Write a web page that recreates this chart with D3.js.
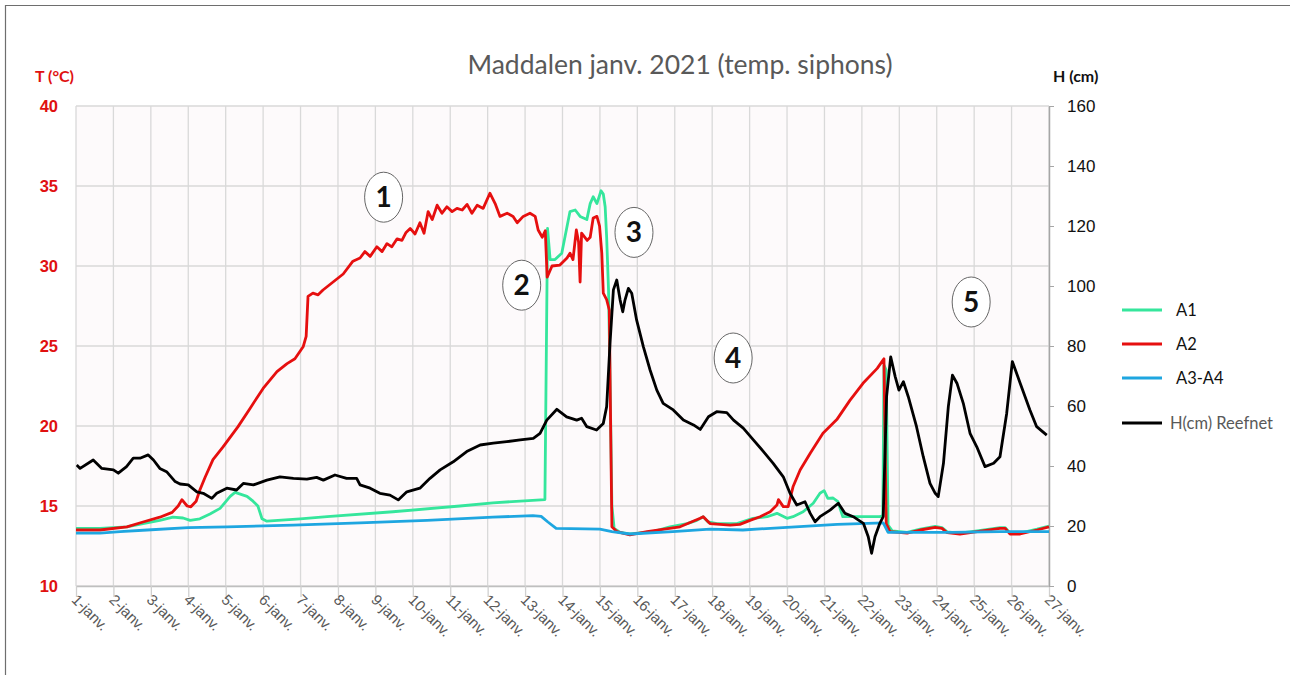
<!DOCTYPE html>
<html>
<head>
<meta charset="utf-8">
<script src="https://cdn.jsdelivr.net/npm/d3@7"></script>
<style>
  html, body { margin: 0; padding: 0; background: #fff; }
  svg { display: block; font-family: Lato, "Open Sans", sans-serif; }
</style>
</head>
<body>
<div id="chart"></div>
<script>
// day labels on the x axis (1 = 1 janv. 00:00)
var dayLabels = ['1-janv.','2-janv.','3-janv.','4-janv.','5-janv.','6-janv.','7-janv.','8-janv.','9-janv.',
  '10-janv.','11-janv.','12-janv.','13-janv.','14-janv.','15-janv.','16-janv.','17-janv.','18-janv.',
  '19-janv.','20-janv.','21-janv.','22-janv.','23-janv.','24-janv.','25-janv.','26-janv.','27-janv.'];
var tempTicks = [10, 15, 20, 25, 30, 35, 40];
var heightTicks = [0, 20, 40, 60, 80, 100, 120, 140, 160];

// [day, °C]
var a1 = [[1.00,13.6],[1.64,13.6],[2.36,13.7],[2.79,13.9],[3.24,14.1],[3.59,14.3],[3.86,14.25],[4.05,14.1],
  [4.31,14.2],[4.58,14.5],[4.85,14.85],[5.12,15.6],[5.25,15.85],[5.57,15.6],[5.73,15.3],[5.86,15.0],
  [5.97,14.2],[6.10,14.05],[6.99,14.2],[7.71,14.33],[9.47,14.64],[11.26,15.0],[12.14,15.2],[13.53,15.4],
  [13.60,32.35],[13.67,30.4],[13.80,30.4],[13.98,30.8],[14.20,33.4],[14.34,33.5],[14.47,33.1],[14.65,32.9],
  [14.74,33.9],[14.82,34.33],[14.92,33.9],[15.03,34.7],[15.09,34.5],[15.14,33.7],[15.18,31.8],[15.23,28.5],
  [15.27,23.0],[15.32,15.0],[15.38,13.6],[15.54,13.35],[15.80,13.25],[16.42,13.4],[16.87,13.7],[17.33,13.9],
  [17.59,14.1],[17.76,14.33],[17.89,14.0],[18.13,13.9],[18.66,13.9],[19.09,14.23],[19.47,14.33],[19.73,14.54],
  [20.00,14.23],[20.16,14.33],[20.43,14.64],[20.70,15.17],[20.88,15.8],[20.99,15.96],[21.09,15.48],[21.23,15.5],
  [21.36,15.27],[21.49,14.33],[22.48,14.33],[22.56,14.4],[22.59,23.8],[22.65,23.5],[22.70,13.8],[22.81,13.45],
  [23.21,13.35],[23.56,13.55],[23.96,13.72],[24.14,13.65],[24.28,13.38],[24.62,13.3],[25.08,13.45],[25.69,13.65],
  [25.83,13.65],[25.96,13.3],[26.23,13.3],[26.68,13.55],[27.00,13.75]];

var a2 = [[1.00,13.5],[1.64,13.5],[2.36,13.7],[2.79,14.0],[3.24,14.3],[3.57,14.6],[3.73,15.0],[3.83,15.4],
  [3.97,15.0],[4.07,14.95],[4.21,15.3],[4.31,16.0],[4.45,16.8],[4.66,17.9],[4.93,18.7],[5.33,19.96],[5.65,21.1],
  [6.00,22.35],[6.37,23.4],[6.64,23.9],[6.85,24.2],[7.07,24.95],[7.15,25.6],[7.20,28.1],[7.33,28.3],[7.47,28.2],
  [7.60,28.5],[7.87,29.0],[8.14,29.5],[8.40,30.3],[8.59,30.5],[8.72,30.9],[8.86,30.6],[9.04,31.2],[9.18,30.9],
  [9.31,31.4],[9.44,31.2],[9.58,31.7],[9.71,31.6],[9.82,32.1],[9.93,32.35],[10.06,32.0],[10.19,32.7],[10.30,32.05],
  [10.41,33.4],[10.52,32.9],[10.65,33.8],[10.78,33.3],[10.91,33.7],[11.05,33.4],[11.18,33.6],[11.32,33.5],
  [11.45,33.85],[11.58,33.3],[11.72,33.8],[11.88,33.6],[12.06,34.55],[12.20,33.9],[12.33,33.1],[12.52,33.3],
  [12.68,33.1],[12.79,32.7],[12.95,33.1],[13.13,33.3],[13.27,33.1],[13.35,32.25],[13.46,31.8],[13.54,32.2],
  [13.59,29.3],[13.72,30.0],[13.93,30.06],[14.12,30.5],[14.20,30.8],[14.28,30.4],[14.37,32.25],[14.43,31.5],
  [14.47,29.0],[14.51,32.05],[14.66,31.6],[14.74,31.8],[14.82,33.0],[14.92,33.1],[14.99,32.5],[15.05,30.8],
  [15.09,28.3],[15.18,27.9],[15.25,27.25],[15.29,19.3],[15.32,13.7],[15.45,13.4],[15.80,13.2],[16.26,13.4],
  [17.14,13.7],[17.68,14.23],[17.76,14.33],[17.94,13.9],[18.48,13.8],[18.74,13.85],[19.01,14.1],[19.28,14.33],
  [19.55,14.64],[19.73,15.06],[19.77,15.4],[19.90,14.96],[20.03,14.96],[20.16,16.2],[20.35,17.25],[20.62,18.3],
  [20.96,19.54],[21.33,20.4],[21.68,21.6],[22.03,22.67],[22.41,23.6],[22.56,24.1],[22.59,24.2],[22.65,13.9],
  [22.75,13.4],[23.21,13.3],[23.56,13.5],[23.96,13.67],[24.14,13.6],[24.28,13.33],[24.62,13.25],[25.08,13.4],
  [25.69,13.6],[25.83,13.6],[25.96,13.25],[26.23,13.25],[26.68,13.5],[27.00,13.7]];

var a3a4 = [[1.00,13.3],[1.64,13.3],[2.18,13.4],[2.90,13.5],[4.00,13.65],[5.04,13.7],[6.80,13.8],[8.59,13.95],
  [10.38,14.1],[12.14,14.3],[13.21,14.4],[13.43,14.35],[13.61,14.0],[13.83,13.6],[15.00,13.55],[15.32,13.4],
  [15.80,13.25],[16.95,13.4],[17.94,13.55],[18.82,13.5],[20.00,13.67],[21.34,13.85],[22.57,13.95],[22.70,13.35],
  [24.36,13.35],[25.70,13.4],[27.00,13.4]];

// [day, cm]
var reefnet = [[1.02,40.3],[1.11,39.2],[1.46,42],[1.69,39.2],[2.00,38.7],[2.13,37.6],[2.35,39.8],[2.53,42.6],
  [2.71,42.6],[2.93,43.7],[3.07,42],[3.24,39.2],[3.42,38.1],[3.65,34.8],[3.78,34],[4.00,33.7],[4.23,31.4],
  [4.40,30.9],[4.63,29.2],[4.76,30.9],[5.03,32.6],[5.29,32],[5.47,34.2],[5.74,33.7],[6.10,35.3],[6.45,36.4],
  [6.81,35.9],[7.17,35.6],[7.43,36.2],[7.61,35.3],[7.92,37],[8.23,35.9],[8.50,35.9],[8.59,33.7],[8.86,32.6],
  [9.12,30.9],[9.39,30.3],[9.61,28.7],[9.84,31.4],[10.19,32.6],[10.46,35.9],[10.73,38.7],[11.08,41.4],
  [11.44,44.8],[11.80,47],[12.15,47.6],[12.51,48.1],[12.87,48.7],[13.22,49.2],[13.40,50.9],[13.58,55.3],
  [13.85,58.9],[14.11,56.4],[14.38,55.3],[14.51,55.9],[14.65,53.1],[14.91,52],[15.09,54.2],[15.18,59.8],
  [15.27,80.9],[15.36,98.7],[15.45,102],[15.54,95.3],[15.61,91.4],[15.67,95.3],[15.76,99.2],[15.85,97.6],
  [15.98,88.7],[16.16,79.8],[16.34,72],[16.52,65.3],[16.69,60.9],[16.96,58.7],[17.23,55.3],[17.50,53.7],
  [17.68,52.2],[17.90,56.4],[18.12,58.1],[18.39,57.8],[18.57,55.3],[18.83,52.6],[19.10,48.7],[19.37,44.8],
  [19.63,40.9],[19.90,36.4],[20.08,30.9],[20.26,27],[20.48,28.1],[20.62,24.2],[20.75,21.4],[20.88,23.1],
  [21.15,25.3],[21.37,27.6],[21.55,24.2],[21.77,23.1],[22.04,20.9],[22.17,16.4],[22.26,10.9],[22.35,16.4],
  [22.48,20.9],[22.57,23.1],[22.66,63.1],[22.77,76.4],[22.89,69.8],[22.99,65.3],[23.11,68.1],[23.24,63.1],
  [23.46,53.1],[23.64,43.1],[23.82,34.2],[23.96,30.9],[24.04,29.8],[24.18,40.9],[24.31,59.8],[24.42,70.3],
  [24.54,67.6],[24.71,60.9],[24.89,50.9],[25.07,46.4],[25.29,39.8],[25.52,40.9],[25.69,43.1],[25.87,57.6],
  [26.02,74.8],[26.23,67.6],[26.49,58.7],[26.67,53.1],[26.94,50.3]];

// circled event numbers [label, day, °C]
var events = [['1', 9.22, 34.3], ['2', 12.91, 28.8], ['3', 15.91, 32.1], ['4', 18.56, 24.25], ['5', 24.92, 27.75]];

var seriesList = [
  { name: 'A1', data: a1, color: '#35e69c', axis: 't' },
  { name: 'A2', data: a2, color: '#e60f0f', axis: 't' },
  { name: 'A3-A4', data: a3a4, color: '#1ea6e0', axis: 't' },
  { name: 'H(cm) Reefnet', data: reefnet, color: '#000000', axis: 'h' }
];

var W = 1290, H = 675;
var M = { left: 76, right: 1049, top: 106, bottom: 586 };

var svg = d3.select('#chart').append('svg').attr('width', W).attr('height', H);

// frame (outer chart border, cropped)
svg.append('path').attr('d', 'M5.5,675V5.5H1290').attr('fill', 'none').attr('stroke', '#6e6e6e').attr('stroke-width', 1.2);

var x = d3.scaleLinear().domain([1, 27]).range([M.left, M.right]);
var yT = d3.scaleLinear().domain([10, 40]).range([M.bottom, M.top]);
var yH = d3.scaleLinear().domain([0, 160]).range([M.bottom, M.top]);

svg.append('rect').attr('x', M.left).attr('y', M.top).attr('width', M.right - M.left).attr('height', M.bottom - M.top)
  .attr('fill', '#fdfafb');

var days = d3.range(1, 28);
var grid = svg.append('g').attr('stroke', '#d9d9d9').attr('stroke-width', 1.3);
grid.selectAll('line.v').data(days).join('line').attr('class', 'v')
  .attr('x1', function (d) { return x(d); }).attr('x2', function (d) { return x(d); })
  .attr('y1', M.top).attr('y2', M.bottom);
grid.selectAll('line.h').data(tempTicks).join('line').attr('class', 'h')
  .attr('x1', M.left).attr('x2', M.right)
  .attr('y1', function (d) { return yT(d); }).attr('y2', function (d) { return yT(d); });

// x axis
var xAxis = svg.append('g').attr('transform', 'translate(0,' + M.bottom + ')')
  .call(d3.axisBottom(x).tickValues(days).tickSize(11).tickSizeOuter(0)
    .tickFormat(function (d) { return dayLabels[d - 1]; }));
xAxis.select('.domain').attr('stroke', '#bfbfbf').attr('stroke-width', 1.5);
xAxis.selectAll('.tick line').attr('stroke', '#d0d0d0').attr('stroke-width', 1.3);
xAxis.selectAll('.tick text')
  .attr('fill', '#595959').attr('font-size', 15).attr('text-anchor', 'start')
  .attr('transform', 'translate(-2,11) rotate(45)').attr('x', 0).attr('y', 0).attr('dy', '0.35em');

// left axis (°C)
var leftAxis = svg.append('g').attr('transform', 'translate(' + M.left + ',0)')
  .call(d3.axisLeft(yT).tickValues(tempTicks).tickSize(0).tickPadding(18));
leftAxis.select('.domain').remove();
leftAxis.selectAll('.tick text').attr('fill', '#e01010').attr('font-weight', 'bold').attr('font-size', 16.5);

// right axis (cm)
var rightAxis = svg.append('g').attr('transform', 'translate(' + M.right + ',0)')
  .call(d3.axisRight(yH).tickValues(heightTicks).tickSize(5).tickSizeOuter(0).tickPadding(13));
rightAxis.select('.domain').attr('stroke', '#a6a6a6').attr('stroke-width', 1.5);
rightAxis.selectAll('.tick line').attr('stroke', '#a6a6a6');
rightAxis.selectAll('.tick text').attr('fill', '#111').attr('font-size', 17);

// axis titles and chart title
svg.append('text').attr('x', 35).attr('y', 82).attr('fill', '#e01010').attr('font-weight', 'bold')
  .attr('font-size', 16).text('T (°C)');
svg.append('text').attr('x', 1053).attr('y', 82).attr('fill', '#111').attr('font-weight', 'bold')
  .attr('font-size', 16).text('H (cm)');
svg.append('text').attr('x', 680).attr('y', 74).attr('text-anchor', 'middle').attr('fill', '#595959')
  .attr('font-size', 26.5).text('Maddalen janv. 2021 (temp. siphons)');

// series
var lines = svg.append('g').attr('fill', 'none').attr('stroke-width', 2.8).attr('stroke-linejoin', 'round');
seriesList.forEach(function (s) {
  var yy = s.axis === 't' ? yT : yH;
  var line = d3.line().x(function (d) { return x(d[0]); }).y(function (d) { return yy(d[1]); });
  lines.append('path').datum(s.data).attr('d', line).attr('stroke', s.color);
});

// circled numbers
var ev = svg.append('g').selectAll('g').data(events).join('g')
  .attr('transform', function (d) { return 'translate(' + x(d[1]) + ',' + yT(d[2]) + ')'; });
ev.append('ellipse').attr('rx', 19).attr('ry', 25).attr('fill', '#fff').attr('stroke', '#666').attr('stroke-width', 1);
ev.append('text').attr('text-anchor', 'middle').attr('dy', '0.36em').attr('font-size', 28).attr('font-weight', 'bold')
  .attr('fill', '#111').text(function (d) { return d[0]; });

// legend
var legendY = [310, 344, 378, 423];
var lg = svg.append('g').selectAll('g').data(seriesList).join('g')
  .attr('transform', function (d, i) { return 'translate(1122,' + legendY[i] + ')'; });
lg.append('line').attr('x1', 0).attr('x2', 40).attr('stroke', function (d) { return d.color; }).attr('stroke-width', 2.8);
lg.append('text').attr('x', function (d, i) { return i === 3 ? 48 : 54; }).attr('dy', '0.35em').attr('font-size', 16.5)
  .attr('fill', function (d, i) { return i === 3 ? '#595959' : '#111'; }).text(function (d) { return d.name; });
</script>
</body>
</html>
